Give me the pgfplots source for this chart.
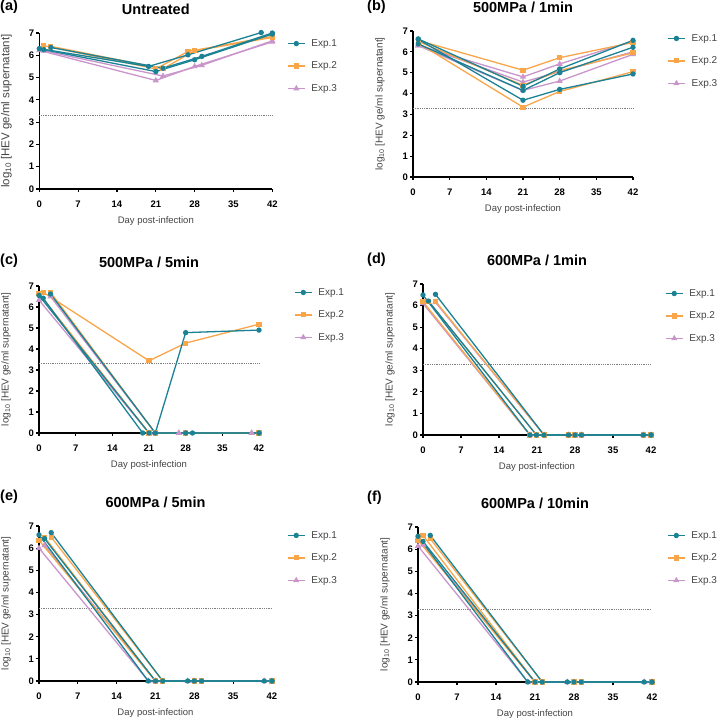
\documentclass[border=0pt]{standalone}
\usepackage{pgfplots}
\pgfplotsset{compat=1.18}
\usepackage{fontspec}
\setmainfont{Liberation Sans}
\definecolor{cteal}{HTML}{1A8294}
\definecolor{corange}{HTML}{F9A64A}
\definecolor{cpurple}{HTML}{C995CB}
\definecolor{labgray}{HTML}{444444}
\pgfplotsset{
  e1/.style={color=cteal, line width=1.3pt, mark=*, mark size=2.0pt, mark options={solid}},
  e2/.style={color=corange, line width=1.3pt, mark=square*, mark size=1.9pt, mark options={solid}},
  e3/.style={color=cpurple, line width=1.3pt, mark=triangle*, mark size=2.3pt, mark options={solid}},
  lod/.style={color=gray, line width=0.6pt, dash pattern=on 0.6pt off 1.2pt, forget plot, mark=none},
  panel/.style={
    scale only axis, clip=false,
    xmin=0, xmax=42, ymin=0, ymax=7,
    axis x line*=bottom, axis y line*=left,
    x axis line style={-}, y axis line style={-},
    axis line style={line width=1.5pt, black},
    xtick={0,7,...,42}, ytick={0,1,...,7},
    tick align=outside, major tick length=3pt,
    tick style={line width=1.2pt, black},
    /pgf/number format/assume math mode=true,
    ticklabel style={font=\bfseries\fontsize{9.5}{10}\selectfont},
    xticklabel style={yshift=-5pt},
    yticklabel style={xshift=1.5pt},
    xlabel={Day post-infection},
    ylabel={log\textsubscript{10} [HEV ge/ml supernatant]},
    x label style={font=\fontsize{9.5}{10}\selectfont, text=labgray, at={([yshift=-32pt]axis description cs:0.5,0)}, anchor=center},
    y label style={font=\fontsize{10}{11}\selectfont, text=labgray, at={([xshift=-33pt]axis description cs:0,0.5)}, anchor=center},
    title style={font=\bfseries\fontsize{14.5}{16}\selectfont, at={([yshift=18pt]axis description cs:0.5,1)}, anchor=center},
    legend cell align=left,
    legend image code/.code={\draw[mark repeat=2,mark phase=2,##1] plot coordinates {(0pt,0pt)(8.5pt,0pt)(17pt,0pt)};},
    legend style={draw=none, fill=none, inner sep=0pt, anchor=west, row sep=10pt,
      font=\fontsize{10}{12}\selectfont, text=labgray,
      /tikz/every odd column/.append style={column sep=4pt}},
  }
}
\begin{document}
\begin{tikzpicture}
\path[use as bounding box] (0pt,0pt) rectangle (718pt,720pt);
% panel letters
\tikzset{plab/.style={anchor=west, inner sep=0pt, font=\bfseries\fontsize{14.5}{16}\selectfont}}
\node[plab] at (0pt,713pt) {(a)};
\node[plab] at (367pt,713pt) {(b)};
\node[plab] at (0pt,459pt) {(c)};
\node[plab] at (367pt,460pt) {(d)};
\node[plab] at (0pt,223pt) {(e)};
\node[plab] at (367pt,222pt) {(f)};

% (a) Untreated
\begin{axis}[panel, at={(39.3pt,531pt)}, anchor=south west, width=233pt, height=156pt,
  title={Untreated}, legend style={at={(axis description cs:1.063,0.788)}},
  y label style={font=\fontsize{11.5}{12}\selectfont}]
\addlegendimage{e1}\addlegendentry{Exp.1}
\addlegendimage{e2}\addlegendentry{Exp.2}
\addlegendimage{e3}\addlegendentry{Exp.3}
\addplot[lod] coordinates {(0,3.3)(42,3.3)};
\addplot[e3, forget plot] coordinates {(0,6.22)(21,4.87)(28,5.5)(42,6.6)};
\addplot[e3, forget plot] coordinates {(0.8,6.2)(22.3,5.07)(29.3,5.55)(42,6.65)};
\addplot[e2, forget plot] coordinates {(0.8,6.43)(21,5.39)(26.8,6.17)(42,6.85)};
\addplot[e2, forget plot] coordinates {(2.1,6.4)(22.3,5.4)(28,6.2)(42,6.8)};
\addplot[e1, forget plot] coordinates {(0.8,6.25)(21,5.27)(28,5.8)(42,6.95)};
\addplot[e1, forget plot] coordinates {(2.1,6.35)(22.3,5.42)(29.3,5.95)(42,7.0)};
\addplot[e1, forget plot] coordinates {(0,6.3)(19.7,5.5)(26.8,6.02)(40,7.02)};
\end{axis}

% (b) 500MPa / 1min
\begin{axis}[panel, at={(413pt,543pt)}, anchor=south west, width=220pt, height=146pt,
  title={500MPa / 1min}, legend style={at={(axis description cs:1.155,0.795)}}]
\addlegendimage{e1}\addlegendentry{Exp.1}
\addlegendimage{e2}\addlegendentry{Exp.2}
\addlegendimage{e3}\addlegendentry{Exp.3}
\addplot[lod] coordinates {(0,3.3)(42,3.3)};
\addplot[e3, forget plot] coordinates {(1,6.3)(21,4.8)(28,5.42)(42,6.52)};
\addplot[e3, forget plot] coordinates {(1,6.35)(21,4.55)(28,5.05)(42,6.0)};
\addplot[e3, forget plot] coordinates {(1,6.3)(21,4.15)(28,4.6)(42,5.88)};
\addplot[e2, forget plot] coordinates {(1,6.55)(21,5.12)(28,5.72)(42,6.45)};
\addplot[e2, forget plot] coordinates {(1,6.5)(21,4.4)(28,5.1)(42,5.95)};
\addplot[e2, forget plot] coordinates {(1,6.42)(21,3.35)(28,4.1)(42,5.05)};
\addplot[e1, forget plot] coordinates {(1,6.62)(21,4.35)(28,5.18)(42,6.55)};
\addplot[e1, forget plot] coordinates {(1,6.38)(21,4.15)(28,5.0)(42,6.22)};
\addplot[e1, forget plot] coordinates {(1,6.6)(21,3.68)(28,4.2)(42,4.94)};
\end{axis}

% (c) 500MPa / 5min
\begin{axis}[panel, at={(39pt,287pt)}, anchor=south west, width=220pt, height=147pt,
  title={500MPa / 5min}, legend style={at={(axis description cs:1.159,0.803)}}]
\addlegendimage{e1}\addlegendentry{Exp.1}
\addlegendimage{e2}\addlegendentry{Exp.2}
\addlegendimage{e3}\addlegendentry{Exp.3}
\addplot[lod] coordinates {(0,3.3)(42,3.3)};
\addplot[e3, forget plot] coordinates {(0,6.33)(21,0)(26.7,0)(40.6,0)};
\addplot[e3, forget plot] coordinates {(2.2,6.5)(22.2,0)(26.7,0)(40.6,0)};
\addplot[e2, forget plot] coordinates {(0.8,6.7)(21,3.44)(28,4.28)(42,5.18)};
\addplot[e2, forget plot] coordinates {(2.2,6.7)(22.2,0)(28,0)(42,0)};
\addplot[e2, forget plot] coordinates {(0,6.65)(21,0)(28,0)(42,0)};
\addplot[e1, forget plot] coordinates {(0.8,6.42)(19.8,0)(28,0)(42,0)};
\addplot[e1, forget plot] coordinates {(2.2,6.62)(22.2,0)(28,4.78)(42,4.9)};
\addplot[e1, forget plot] coordinates {(0,6.55)(21,0)(29.3,0)(42,0)};
\end{axis}

% (d) 600MPa / 1min
\begin{axis}[panel, at={(423pt,285pt)}, anchor=south west, width=228pt, height=151pt,
  title={600MPa / 1min}, legend style={at={(axis description cs:1.061,0.788)}}]
\addlegendimage{e1}\addlegendentry{Exp.1}
\addlegendimage{e2}\addlegendentry{Exp.2}
\addlegendimage{e3}\addlegendentry{Exp.3}
\addplot[lod] coordinates {(0,3.3)(42,3.3)};
\addplot[e3, forget plot] coordinates {(0,6.1)(19.7,0)(26.8,0)(40.6,0)};
\addplot[e3, forget plot] coordinates {(2.3,6.15)(22.3,0)(29.2,0)(42,0)};
\addplot[e2, forget plot] coordinates {(0,6.18)(19.7,0)(26.8,0)(40.6,0)};
\addplot[e2, forget plot] coordinates {(1,6.2)(20.9,0)(28,0)(42,0)};
\addplot[e2, forget plot] coordinates {(2.3,6.2)(22.3,0)(29.2,0)(42,0)};
\addplot[e1, forget plot] coordinates {(0,6.49)(19.7,0)(26.8,0)(40.6,0)};
\addplot[e1, forget plot] coordinates {(1,6.21)(20.9,0)(28,0)(42,0)};
\addplot[e1, forget plot] coordinates {(2.3,6.52)(22.3,0)(29.2,0)(42,0)};
\end{axis}

% (e) 600MPa / 5min
\begin{axis}[panel, at={(39pt,39pt)}, anchor=south west, width=233pt, height=155pt,
  title={600MPa / 5min}, legend style={at={(axis description cs:1.064,0.794)}}]
\addlegendimage{e1}\addlegendentry{Exp.1}
\addlegendimage{e2}\addlegendentry{Exp.2}
\addlegendimage{e3}\addlegendentry{Exp.3}
\addplot[lod] coordinates {(0,3.3)(42,3.3)};
\addplot[e3, forget plot] coordinates {(0,6.0)(19.7,0)(26.8,0)(40.6,0)};
\addplot[e3, forget plot] coordinates {(1,6.13)(21,0)(28,0)(42,0)};
\addplot[e2, forget plot] coordinates {(0,6.35)(21,0)(28,0)(42,0)};
\addplot[e2, forget plot] coordinates {(1,6.5)(21,0)(28,0)(42,0)};
\addplot[e2, forget plot] coordinates {(2.2,6.5)(22.3,0)(29.3,0)(42,0)};
\addplot[e1, forget plot] coordinates {(0,6.6)(19.7,0)(26.8,0)(40.6,0)};
\addplot[e1, forget plot] coordinates {(1,6.43)(21,0)(28,0)(42,0)};
\addplot[e1, forget plot] coordinates {(2.2,6.7)(22.3,0)(29.3,0)(42,0)};
\end{axis}

% (f) 600MPa / 10min
\begin{axis}[panel, at={(418pt,38pt)}, anchor=south west, width=234pt, height=155pt,
  title={600MPa / 10min}, legend style={at={(axis description cs:1.064,0.8)}}]
\addlegendimage{e1}\addlegendentry{Exp.1}
\addlegendimage{e2}\addlegendentry{Exp.2}
\addlegendimage{e3}\addlegendentry{Exp.3}
\addplot[lod] coordinates {(0,3.3)(42,3.3)};
\addplot[e3, forget plot] coordinates {(0,6.14)(19.7,0)(26.8,0)(40.6,0)};
\addplot[e3, forget plot] coordinates {(0.9,6.2)(21,0)(28,0)(42,0)};
\addplot[e2, forget plot] coordinates {(0,6.4)(21,0)(28,0)(42,0)};
\addplot[e2, forget plot] coordinates {(0.9,6.62)(21,0)(28,0)(42,0)};
\addplot[e2, forget plot] coordinates {(2.2,6.47)(22.3,0)(29.3,0)(42,0)};
\addplot[e1, forget plot] coordinates {(0,6.58)(19.7,0)(26.8,0)(40.6,0)};
\addplot[e1, forget plot] coordinates {(0.9,6.35)(21,0)(28,0)(42,0)};
\addplot[e1, forget plot] coordinates {(2.2,6.62)(22.3,0)(29.3,0)(42,0)};
\end{axis}
\end{tikzpicture}
\end{document}
